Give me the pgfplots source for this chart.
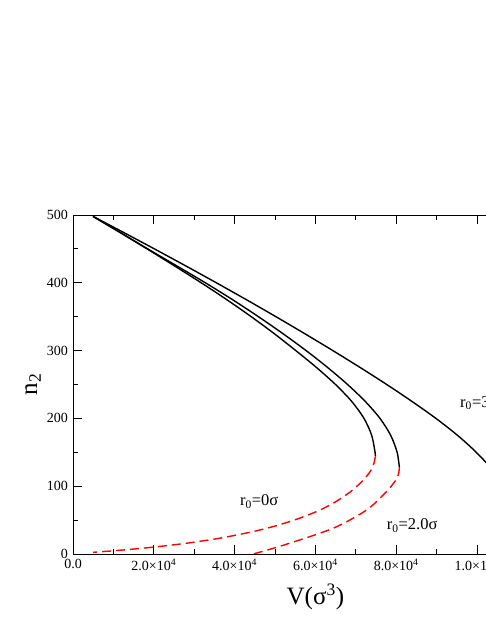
\documentclass[border=0pt]{standalone}
\usepackage{fontspec}
\setmainfont{Liberation Serif}
\usepackage{pgfplots}
\pgfplotsset{compat=1.18}
\definecolor{dashred}{RGB}{255,0,0}
\tikzset{
  solidc/.style={black, line width=1.4pt, smooth, tension=0.5},
  dashc/.style={dashred, line width=1.4pt, dash pattern=on 9pt off 5pt, smooth, tension=0.5},
  rlbl/.style={anchor=base west, inner sep=0pt, font=\fontsize{16.5}{18}\selectfont},
}
\begin{document}
\begin{tikzpicture}
\begin{axis}[
  at={(73pt,73pt)}, anchor=south west,
  scale only axis, width=484.8pt, height=339pt,
  xmin=0, xmax=120000, ymin=0, ymax=500,
  axis line style={line width=0.8pt},
  tick align=inside, tick style={black, line width=0.8pt},
  major tick length=9pt, minor tick length=5pt,
  xtick={0,20000,40000,60000,80000,100000,120000},
  xticklabels={0.0, 2.0×10\textsuperscript{4}, 4.0×10\textsuperscript{4},
               6.0×10\textsuperscript{4}, 8.0×10\textsuperscript{4},
               1.0×10\textsuperscript{5}, 1.2×10\textsuperscript{5}},
  scaled x ticks=false,
  ytick={0,100,...,500},
  minor x tick num=1, minor y tick num=1,
  /pgf/number format/assume math mode=true,
  tick label style={font=\fontsize{14}{16}\selectfont},
  xticklabel style={inner sep=0pt, yshift=-5pt},
  yticklabel style={inner sep=0pt, xshift=-5pt},
  xlabel={V(σ\textsuperscript{3})},
  ylabel={n\textsubscript{2}},
  label style={font=\fontsize{25}{28}\selectfont},
  xlabel style={at={(axis description cs:0.5,0)}, anchor=center, yshift=-43pt},
  ylabel style={at={(axis description cs:0,0.5)}, anchor=center, yshift=40pt},
]
% r0 = 3.0 sigma (runs on past the cropped right edge)
\addplot[solidc] coordinates {
  (4950,498) (12290,475) (20150,450) (27890,425) (35490,400) (42940,375)
  (50230,350) (57360,325) (64320,300) (71100,275) (77650,250) (83910,225)
  (89830,200) (95180,175) (99820,150) (103720,125) (106920,100)};
% r0 = 2.0 sigma
\addplot[solidc] coordinates {
  (4950,498) (11470,475) (18500,450) (25670,425) (32770,400) (39520,375)
  (45900,350) (51970,325) (57700,300) (63040,275) (67960,250) (72340,225)
  (75990,200) (78640,175) (80230,150) (80780,128)};
\addplot[dashc] coordinates {
  (80780,128) (80650,120) (80200,112) (79300,104) (77600,92) (72700,65)
  (64400,38) (52100,13) (44600,0)};
% r0 = 0 sigma
\addplot[solidc] coordinates {
  (4950,498) (11420,475) (18330,450) (25100,425) (31740,400) (38090,375)
  (44120,350) (49810,325) (55150,300) (60290,275) (64980,250) (68990,225)
  (72030,200) (73930,175) (74770,150) (74840,144)};
\addplot[dashc] coordinates {
  (74840,144) (74550,135) (74000,126) (73000,117) (71000,104) (68500,91)
  (65000,77) (61000,64.5) (56000,52.6) (50000,41.2) (44000,32.3)
  (36000,23) (28000,15.8) (20000,10.2) (12000,5.7) (5000,2.5)};
\node[rlbl] at (axis cs:41300,71) {r\textsubscript{0}=0σ};
\node[rlbl] at (axis cs:77650,35.4) {r\textsubscript{0}=2.0σ};
\node[rlbl] at (axis cs:95800,216.8) {r\textsubscript{0}=3.0σ};
\end{axis}
\pgfresetboundingbox
\useasboundingbox (0,0) rectangle (485pt,627pt);
\end{tikzpicture}
\end{document}
